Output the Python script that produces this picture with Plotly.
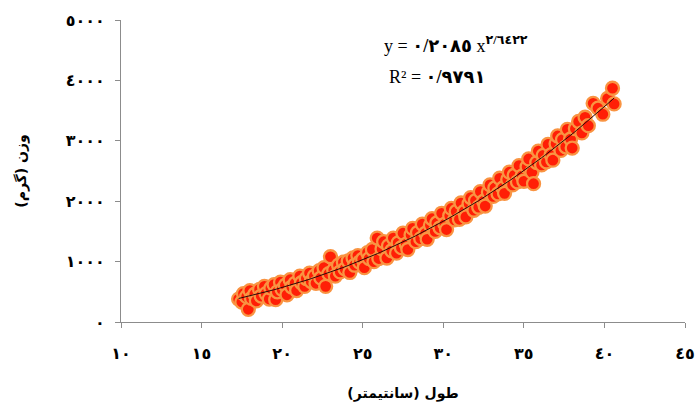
import plotly.graph_objects as go

# ---- data ----
length_cm = [
    17.3, 17.5, 17.6, 17.8, 17.9, 18.0, 18.1, 18.3, 18.4, 18.6, 18.7, 18.9, 19.0, 19.2, 19.3,
    19.5, 19.6, 19.7, 19.9, 20.0, 20.2, 20.3, 20.5, 20.6, 20.8, 20.9, 21.1, 21.2, 21.4, 21.5,
    21.7, 21.8, 22.0, 22.1, 22.3, 22.4, 22.6, 22.7, 22.9, 23.0, 23.2, 23.3, 23.5, 23.6, 23.8,
    23.9, 24.1, 24.2, 24.4, 24.5, 24.7, 24.8, 25.0, 25.1, 25.3, 25.4, 25.6, 25.7, 25.9, 26.0,
    26.2, 26.3, 26.5, 26.6, 26.8, 26.9, 27.1, 27.2, 27.4, 27.5, 27.7, 27.8, 28.0, 28.1, 28.3,
    28.4, 28.6, 28.7, 28.9, 29.0, 29.2, 29.3, 29.5, 29.6, 29.8, 29.9, 30.1, 30.2, 30.4, 30.5,
    30.7, 30.8, 31.0, 31.1, 31.3, 31.4, 31.6, 31.7, 31.9, 32.0, 32.2, 32.3, 32.5, 32.6, 32.8,
    32.9, 33.1, 33.2, 33.4, 33.5, 33.7, 33.8, 34.0, 34.1, 34.3, 34.4, 34.6, 34.7, 34.9, 35.0,
    35.2, 35.3, 35.5, 35.6, 35.8, 35.9, 36.1, 36.2, 36.4, 36.5, 36.7, 36.8, 37.0, 37.1, 37.3,
    37.4, 37.6, 37.7, 37.9, 38.0, 38.2, 38.4, 38.6, 38.8, 39.0, 39.3, 39.6, 39.9, 40.2, 40.5,
    40.6,
]
weight_g = [
    380, 330, 470, 420, 210, 520, 390, 460, 350, 540, 430, 590, 470, 380, 560,
    620, 370, 500, 660, 540, 610, 450, 700, 580, 640, 520, 760, 650, 590, 720,
    810, 670, 760, 640, 850, 730, 900, 590, 800, 1080, 860, 760, 940, 830, 990,
    880, 1010, 820, 1060, 940, 1100, 990, 1040, 900, 1150, 1050, 1200, 1000, 1390, 1050,
    1210, 1330, 1060, 1260, 1180, 1390, 1140, 1310, 1230, 1470, 1290, 1200, 1440, 1550, 1330,
    1480, 1380, 1620, 1470, 1370, 1600, 1710, 1500, 1640, 1560, 1800, 1620, 1530, 1760, 1880,
    1690, 1830, 1700, 1970, 1830, 1740, 1960, 2060, 1850, 2010, 1900, 2160, 2000, 1920, 2150,
    2270, 2080, 2220, 2120, 2380, 2220, 2130, 2360, 2480, 2270, 2430, 2320, 2590, 2420, 2330,
    2570, 2700, 2480, 2290, 2640, 2830, 2600, 2760, 2650, 2940, 2770, 2680, 2950, 3080, 2840,
    3020, 2900, 3190, 3030, 2880, 3200, 3320, 3130, 3390, 3250, 3620, 3540, 3440, 3700, 3870,
    3610,
]

# power trend line y = a * x^b (coefficients printed on the chart)
trend_a = 0.2085
trend_b = 2.6422

x_tick_vals = [10, 15, 20, 25, 30, 35, 40, 45]
x_tick_text = ["١٠", "١٥", "٢٠", "٢٥", "٣٠", "٣٥", "٤٠", "٤٥"]
y_tick_vals = [0, 1000, 2000, 3000, 4000, 5000]
y_tick_text = ["٠", "١٠٠٠", "٢٠٠٠", "٣٠٠٠", "٤٠٠٠", "٥٠٠٠"]

x_title = "طول (سانتیمتر)"
y_title = "وزن (گرم)"
eq_text = "y = <b>٠/٢٠٨٥</b> x<sup><b>٢/٦٤٢٢</b></sup>"
r2_text = "R² = <b>٠/٩٧٩١</b>"

# ---- figure ----
x_min, x_max = min(length_cm), max(length_cm)
n_line = 120
trend_x = [x_min + (x_max - x_min) * i / (n_line - 1) for i in range(n_line)]
trend_y = [trend_a * v ** trend_b for v in trend_x]

fig = go.Figure()
fig.add_trace(go.Scatter(
    x=length_cm, y=weight_g, mode="markers",
    marker=dict(size=13, color="rgb(255,30,6)",
                line=dict(color="rgb(249,148,66)", width=2.3)),
    hoverinfo="skip", showlegend=False,
))
fig.add_trace(go.Scatter(
    x=trend_x, y=trend_y, mode="lines",
    line=dict(color="rgb(40,10,10)", width=1),
    hoverinfo="skip", showlegend=False,
))

tick_font = dict(family="DejaVu Sans", size=16, color="black", weight="bold")
axis_common = dict(
    showgrid=False, zeroline=False, showline=True,
    linecolor="rgb(140,140,140)", linewidth=1,
    ticks="outside", ticklen=5, tickcolor="rgb(140,140,140)",
    tickfont=tick_font, tickmode="array",
    ticklabeloverflow="allow",
)

fig.update_xaxes(
    range=[10, 45], tickvals=x_tick_vals, ticktext=x_tick_text,
    ticklabelstandoff=12,
    title=dict(text="<b>" + x_title + "</b>", standoff=25,
               font=dict(family="DejaVu Sans", size=14, color="black")),
    **axis_common,
)
fig.update_yaxes(
    range=[0, 5000], tickvals=y_tick_vals, ticktext=y_tick_text,
    ticklabelstandoff=7,
    title=dict(text="<b>" + y_title + "</b>", standoff=35,
               font=dict(family="DejaVu Sans", size=14, color="black")),
    **axis_common,
)

fig.add_annotation(
    x=0.462, y=0.92, xref="paper", yref="paper", xanchor="left", yanchor="middle",
    text=eq_text, showarrow=False,
    font=dict(family="Liberation Serif, DejaVu Sans", size=18, color="black"),
)
fig.add_annotation(
    x=0.471, y=0.81, xref="paper", yref="paper", xanchor="left", yanchor="middle",
    text=r2_text, showarrow=False,
    font=dict(family="Liberation Serif, DejaVu Sans", size=18, color="black"),
)

fig.update_layout(
    width=696, height=410,
    margin=dict(l=121, r=11, t=20, b=88, autoexpand=False),
    paper_bgcolor="white", plot_bgcolor="white",
)

fig.write_html("out.html")
